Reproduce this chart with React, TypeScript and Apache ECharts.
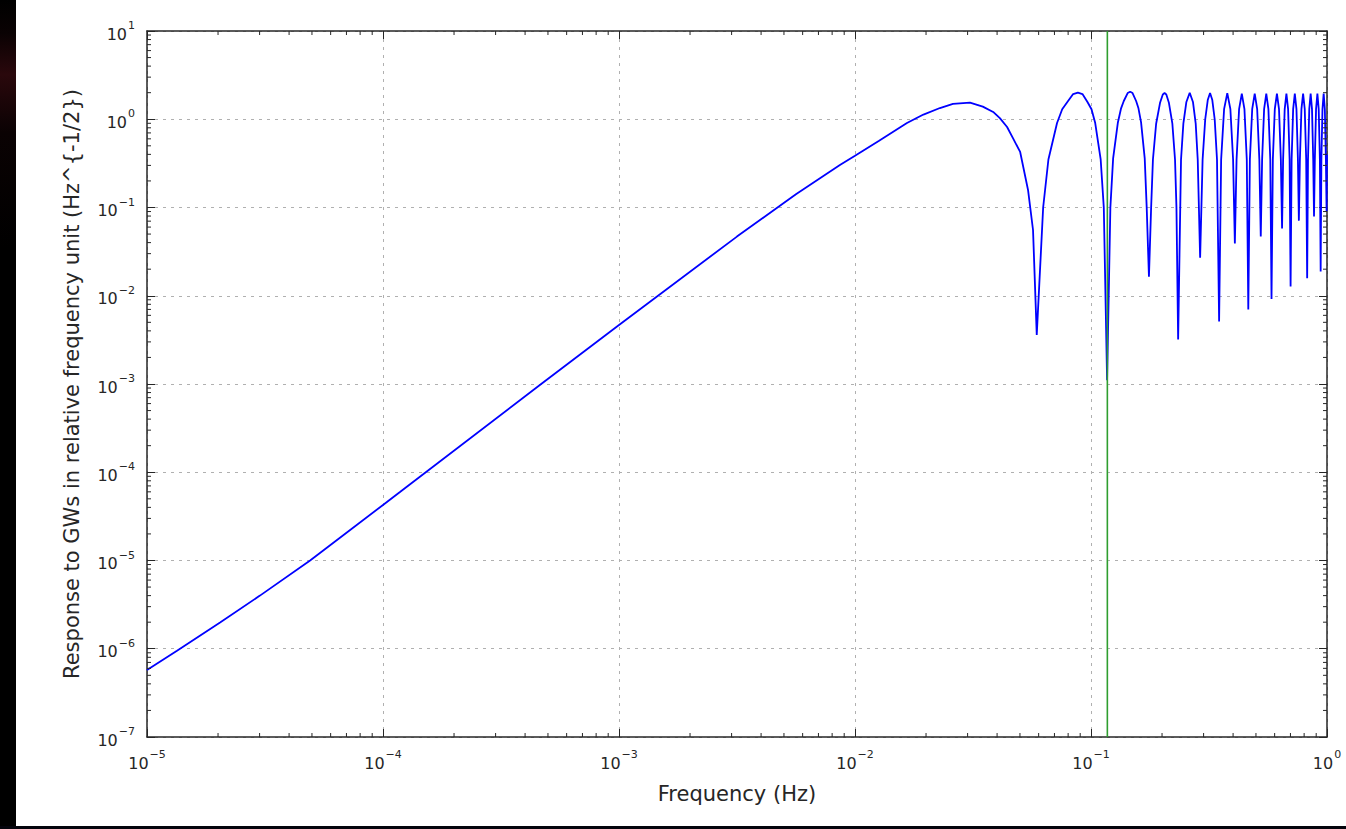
import React, { useEffect, useRef } from "react";
import * as echarts from "echarts";

// ---- data ----
const frequency: number[] = [
  // rising part and first broad maximum
  1e-5, 1.34e-5, 2.04e-5, 3.01e-5, 4.91e-5, 1.0e-4, 1.18e-4, 4.62e-4, 1.0e-3, 3.16e-3,
  5.62e-3, 8.63e-3, 1.0e-2, 1.265e-2, 1.66e-2, 1.95e-2, 2.29e-2, 2.6e-2, 3.07e-2, 3.48e-2, 3.85e-2,
  4.11e-2, 4.41e-2, 4.67e-2, 5.01e-2, 5.41e-2, 5.68e-2, 5.89e-2,
  // lobe 1
  0.0627, 0.066, 0.0718, 0.0755, 0.0794, 0.084, 0.088, 0.092, 0.0966, 0.1005, 0.1042, 0.1099, 0.1133, 0.117,
  // lobe 2
  0.1208, 0.1241, 0.13, 0.1341, 0.1377, 0.143, 0.1465, 0.15, 0.1553, 0.1589, 0.163, 0.1689, 0.1722, 0.176,
  // lobe 3
  0.1798, 0.183, 0.1888, 0.1963, 0.2015, 0.205, 0.2085, 0.2137, 0.2212, 0.227, 0.2302, 0.234,
  // lobe 4
  0.2407, 0.2463, 0.2536, 0.262, 0.2704, 0.2777, 0.2833, 0.29,
  // lobe 5
  0.2971, 0.3048, 0.3124, 0.3195, 0.3266, 0.3343, 0.3419, 0.349,
  // lobes 6 .. 16
  0.356, 0.3664, 0.378, 0.3896, 0.4, 0.407,
  0.4138, 0.4241, 0.4355, 0.4469, 0.4572, 0.464,
  0.4712, 0.482, 0.494, 0.506, 0.5168, 0.524,
  0.531, 0.5414, 0.553, 0.5646, 0.575, 0.582,
  0.5896, 0.6009, 0.6135, 0.6261, 0.6374, 0.645,
  0.6517, 0.6618, 0.673, 0.6842, 0.6943, 0.701,
  0.7081, 0.7187, 0.7305, 0.7423, 0.7529, 0.76,
  0.7677, 0.7792, 0.792, 0.8048, 0.8163, 0.824,
  0.8308, 0.8411, 0.8525, 0.8639, 0.8742, 0.881,
  0.8881, 0.8987, 0.9105, 0.9223, 0.9329, 0.94,
  0.9467, 0.9568, 0.968, 0.9792, 0.9893, 0.996, 1.0,
];
const response: number[] = [
  5.74e-7, 9.5e-7, 1.98e-6, 4.0e-6, 1.0e-5, 4.26e-5, 5.97e-5, 9.75e-4, 4.67e-3, 4.68e-2,
  0.141, 0.303, 0.386, 0.571, 0.906, 1.13, 1.34, 1.49, 1.54, 1.39, 1.21,
  1.03, 0.817, 0.61, 0.426, 0.158, 0.0556, 3.6e-3,
  0.1, 0.35, 0.906, 1.3, 1.57, 1.93, 2.0, 1.93, 1.57, 1.3, 0.906, 0.35, 0.1, 1.1e-3,
  0.1, 0.36, 0.92, 1.33, 1.61, 1.98, 2.05, 1.98, 1.61, 1.33, 0.92, 0.36, 0.1, 0.0164,
  0.1, 0.35, 0.89, 1.55, 1.91, 1.98, 1.91, 1.55, 0.89, 0.35, 0.1, 3.2e-3,
  0.35, 0.9, 1.57, 2.0, 1.57, 0.9, 0.35, 0.027,
  0.35, 1.0, 1.65, 1.98, 1.65, 1.0, 0.35, 5.1e-3,
  0.35, 1.3, 1.98, 1.3, 0.35, 0.039,
  0.35, 1.3, 1.95, 1.3, 0.35, 7.0e-3,
  0.35, 1.3, 1.95, 1.3, 0.35, 0.047,
  0.35, 1.3, 1.95, 1.3, 0.35, 9.2e-3,
  0.35, 1.3, 1.95, 1.3, 0.35, 0.058,
  0.35, 1.3, 1.95, 1.3, 0.35, 0.0127,
  0.35, 1.3, 1.95, 1.3, 0.35, 0.071,
  0.35, 1.3, 1.95, 1.3, 0.35, 0.0158,
  0.35, 1.3, 1.95, 1.3, 0.35, 0.079,
  0.35, 1.3, 1.95, 1.3, 0.35, 0.0188,
  0.35, 1.3, 1.95, 1.3, 0.35, 0.09, 0.4,
];
const markerFrequency = 0.1173;
const xRange: [number, number] = [1e-5, 1];
const yRange: [number, number] = [1e-7, 10];
const xTitle = "Frequency (Hz)";
const yTitle = "Response to GWs in relative frequency unit (Hz^{-1/2})";

const FONT = "DejaVu Sans";
const INK = "#262626";

function decadeMinorTicks(lo: number, hi: number): number[] {
  const out: number[] = [];
  for (let e = Math.round(Math.log10(lo)); e < Math.round(Math.log10(hi)); e++) {
    for (let k = 2; k <= 9; k++) out.push(k * Math.pow(10, e));
  }
  return out;
}

function expLabel(v: number): string {
  const e = Math.round(Math.log10(v));
  const s = e < 0 ? "\u2212" + Math.abs(e) : String(e);
  return `{b|10}{s|${s}}`;
}

const labelRich = {
  b: { fontFamily: FONT, fontSize: 16, color: INK, lineHeight: 22, verticalAlign: "bottom" },
  s: { fontFamily: FONT, fontSize: 11, color: INK, lineHeight: 22, verticalAlign: "top", padding: [0, 0, 0, 1] },
};

export default function App() {
  const ref = useRef<HTMLDivElement>(null);
  useEffect(() => {
    if (!ref.current) return;
    const chart = echarts.init(ref.current, undefined, { renderer: "svg" });
    const lineData = frequency.map((f, i) => [f, response[i]]);
    const xMinor = decadeMinorTicks(xRange[0], xRange[1]).map((v) => [v, 1]);
    const yMinor = decadeMinorTicks(yRange[0], yRange[1]).map((v) => [1e-3, v]);

    const tickStyle = { color: INK, width: 1 };
    const baseAxis = (type: "x" | "y", pos: string, showLabel: boolean) => ({
      type: "log",
      logBase: 10,
      position: pos,
      min: type === "x" ? xRange[0] : yRange[0],
      max: type === "x" ? xRange[1] : yRange[1],
      splitNumber: type === "x" ? 5 : 8,
      axisLine: { show: true, onZero: false, lineStyle: { color: INK, width: 1.5 } },
      axisTick: { show: true, inside: true, length: 8, lineStyle: tickStyle },
      minorTick: { show: false },
      splitLine: showLabel
        ? { show: true, lineStyle: { color: "#b0b0b0", width: 1, type: [3, 5] } }
        : { show: false },
      axisLabel: showLabel
        ? {
            show: true,
            formatter: (v: number) => expLabel(v),
            rich: labelRich,
            margin: 12,
            showMinLabel: true,
            showMaxLabel: true,
          }
        : { show: false },
    });

    const option: any = {
      animation: false,
      backgroundColor: "#ffffff",
      grid: { left: 147, top: 31, right: 19, bottom: 92, containLabel: false },
      xAxis: [
        {
          ...baseAxis("x", "bottom", true),
          name: xTitle,
          nameLocation: "middle",
          nameGap: 46,
          nameTextStyle: { fontFamily: FONT, fontSize: 21, color: INK },
        },
        { ...baseAxis("x", "top", false) },
      ],
      yAxis: [
        {
          ...baseAxis("y", "left", true),
          name: yTitle,
          nameLocation: "middle",
          nameRotate: 90,
          nameGap: 65,
          nameTextStyle: { fontFamily: FONT, fontSize: 21, color: INK },
        },
        { ...baseAxis("y", "right", false) },
      ],
      graphic: [
        {
          type: "rect",
          left: 0,
          top: 0,
          shape: { width: 16, height: 829 },
          style: {
            fill: new echarts.graphic.LinearGradient(0, 0, 0, 1, [
              { offset: 0, color: "#000000" },
              { offset: 0.04, color: "#0a0203" },
              { offset: 0.09, color: "#2a080c" },
              { offset: 0.16, color: "#0a0203" },
              { offset: 0.3, color: "#000000" },
              { offset: 1, color: "#000000" },
            ]),
          },
          z: 100,
        },
        {
          type: "rect",
          left: 0,
          top: 826,
          shape: { width: 1346, height: 3 },
          style: { fill: "#04040c" },
          z: 100,
        },
      ],
      series: [
        {
          type: "line",
          name: "response",
          data: lineData,
          showSymbol: false,
          symbol: "none",
          lineStyle: { color: "#0000ff", width: 1.8 },
          itemStyle: { color: "#0000ff" },
          z: 3,
        },
        {
          type: "line",
          name: "marker",
          data: [
            [markerFrequency, yRange[0]],
            [markerFrequency, yRange[1]],
          ],
          showSymbol: false,
          symbol: "none",
          lineStyle: { color: "#2f9e2f", width: 1.6 },
          z: 4,
        },
        {
          type: "custom",
          name: "xMinorTicks",
          silent: true,
          data: xMinor,
          renderItem: (params: any, api: any) => {
            const cs = params.coordSys;
            const p = api.coord([api.value(0), 1]);
            const x = p[0];
            const yb = cs.y + cs.height;
            return {
              type: "group",
              children: [
                { type: "line", shape: { x1: x, y1: yb, x2: x, y2: yb - 4 }, style: { stroke: INK, lineWidth: 1 } },
                { type: "line", shape: { x1: x, y1: cs.y, x2: x, y2: cs.y + 4 }, style: { stroke: INK, lineWidth: 1 } },
              ],
            };
          },
          z: 5,
        },
        {
          type: "custom",
          name: "yMinorTicks",
          silent: true,
          data: yMinor,
          renderItem: (params: any, api: any) => {
            const cs = params.coordSys;
            const p = api.coord([1e-3, api.value(1)]);
            const y = p[1];
            const xr = cs.x + cs.width;
            return {
              type: "group",
              children: [
                { type: "line", shape: { x1: cs.x, y1: y, x2: cs.x + 4, y2: y }, style: { stroke: INK, lineWidth: 1 } },
                { type: "line", shape: { x1: xr, y1: y, x2: xr - 4, y2: y }, style: { stroke: INK, lineWidth: 1 } },
              ],
            };
          },
          z: 5,
        },
      ],
    };
    chart.setOption(option);
    return () => chart.dispose();
  }, []);
  return (
    <div
      ref={ref}
      style={{ position: "absolute", left: 0, top: 0, width: 1346, height: 829, background: "#fff" }}
    />
  );
}
